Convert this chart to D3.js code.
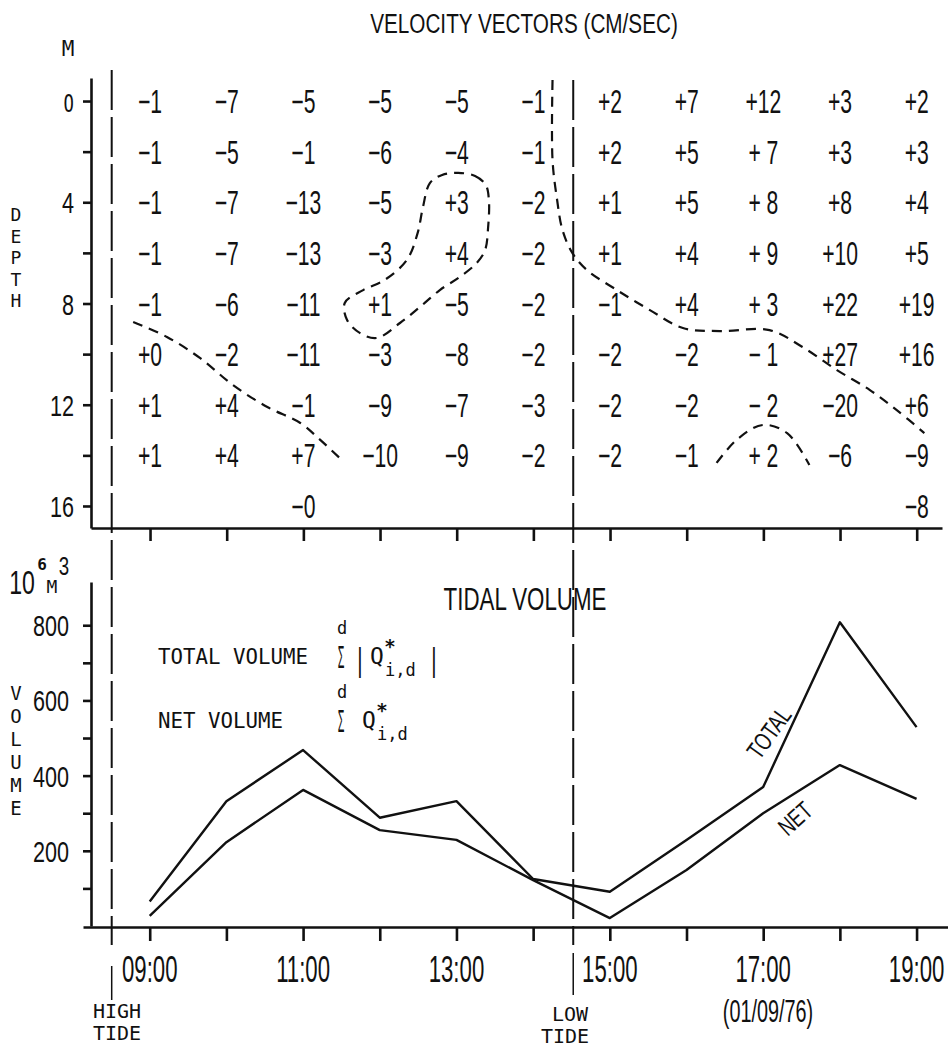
<!DOCTYPE html>
<html>
<head>
<meta charset="utf-8">
<script src="https://cdn.jsdelivr.net/npm/d3@7"></script>
<style>
  body { margin: 0; background: #fff; }
  svg { display: block; }
  text { fill: #111; }
</style>
</head>
<body>
<svg id="chart" width="948" height="1052"></svg>
<script>
// ---- data ----
var hours = [9, 10, 11, 12, 13, 14, 15, 16, 17, 18, 19];
var depths = [0, 2, 4, 6, 8, 10, 12, 14];

// velocity (cm/sec), one row per depth, one column per hour
var velocityRows = [
  ["-1", "-7", "-5",  "-5", "-5", "-1", "+2", "+7", "+12", "+3",  "+2"],
  ["-1", "-5", "-1",  "-6", "-4", "-1", "+2", "+5", "+ 7", "+3",  "+3"],
  ["-1", "-7", "-13", "-5", "+3", "-2", "+1", "+5", "+ 8", "+8",  "+4"],
  ["-1", "-7", "-13", "-3", "+4", "-2", "+1", "+4", "+ 9", "+10", "+5"],
  ["-1", "-6", "-11", "+1", "-5", "-2", "-1", "+4", "+ 3", "+22", "+19"],
  ["+0", "-2", "-11", "-3", "-8", "-2", "-2", "-2", "- 1", "+27", "+16"],
  ["+1", "+4", "-1",  "-9", "-7", "-3", "-2", "-2", "- 2", "-20", "+6"],
  ["+1", "+4", "+7",  "-10", "-9", "-2", "-2", "-1", "+ 2", "-6", "-9"]
];
var bottomCells = [{hour: 11, depth: 16, label: "-0"}, {hour: 19, depth: 16, label: "-8"}];

// zero contours, [hour, depth]
var contourLeft = [[8.78, 8.73], [9.22, 9.32], [9.65, 10.15], [10.08, 11.22], [10.53, 12.09],
                   [10.96, 12.72], [11.22, 13.39], [11.5, 14.18]];
var contourLoop = [[13.02, 2.84], [13.24, 2.96], [13.38, 3.32], [13.42, 3.91], [13.41, 4.98],
                   [13.37, 5.89], [13.26, 6.4], [13.04, 6.95], [12.78, 7.47], [12.52, 8.14],
                   [12.26, 8.77], [11.96, 9.36], [11.74, 9.17], [11.57, 8.65], [11.54, 7.98],
                   [11.78, 7.47], [12.06, 7.07], [12.35, 6.28], [12.49, 5.22], [12.56, 4.19],
                   [12.65, 3.24], [12.81, 2.92]];
var contourRight = [[14.25, -0.83], [14.25, 2.33], [14.31, 3.91], [14.38, 5.1], [14.51, 6.01],
                    [14.7, 6.68], [15.09, 7.47], [15.52, 8.26], [15.95, 8.97], [16.43, 9.09],
                    [17.08, 9.05], [17.51, 9.72], [17.96, 10.63], [18.39, 11.42], [18.74, 12.21],
                    [19.1, 13.12]];
var contourArc = [[16.39, 14.3], [16.65, 13.39], [16.99, 12.8], [17.31, 13.12], [17.6, 14.38]];

// tidal volume (10^6 m^3)
var totalVolume = [65, 332, 468, 288, 332, 125, 91, 229, 370, 808, 529];
var netVolume   = [27, 223, 362, 255, 229, 122, 21, 149, 300, 428, 338];

var highTide = 8.5, lowTide = 14.52;
var depthTicks = [0, 2, 4, 6, 8, 10, 12, 14, 16];
var depthLabels = [0, 4, 8, 12, 16];
var volumeTicks = [100, 200, 300, 400, 500, 600, 700, 800];
var volumeLabels = [200, 400, 600, 800];
var timeLabels = [9, 11, 13, 15, 17, 19];

// ---- setup ----
var svg = d3.select("#chart");
var NARROW = "'Liberation Sans', Arial, sans-serif";
var MONO = "'DejaVu Sans Mono', monospace";

var x = d3.scaleLinear().domain([8.23, 19.33]).range([91, 942]);
var xb = d3.scaleLinear().domain([8.13, 19.41]).range([83, 948]);
var depth = d3.scaleLinear().domain([-0.91, 16.87]).range([78, 528]);
var vol = d3.scaleLinear().domain([0, 915]).range([926, 582]);

function minus(s) { return s.replace("-", "\u2212"); }
function hh(h) { return (h < 10 ? "0" : "") + h + ":00"; }

// narrow text, squeezed horizontally
function narrow(px, py, str, size, sx, anchor) {
  return svg.append("text")
    .attr("transform", "translate(" + px + "," + py + ") scale(" + sx + ",1)")
    .attr("text-anchor", anchor || "middle")
    .style("font-family", NARROW).style("font-size", size + "px")
    .text(str);
}
function mono(px, py, str, size, anchor) {
  return svg.append("text").attr("x", px).attr("y", py)
    .attr("text-anchor", anchor || "middle")
    .style("font-family", MONO).style("font-size", size + "px")
    .text(str);
}

// ---- top panel: velocity vectors ----
narrow(524, 33, "VELOCITY VECTORS (CM/SEC)", 28, 0.74);
mono(68, 56, "M", 21);
"DEPTH".split("").forEach(function(c, i) { mono(16, 221 + i * 21.5, c, 18); });

var yAxisTop = d3.axisLeft(depth).tickValues(depthTicks).tickSize(8).tickSizeOuter(0).tickFormat("");
svg.append("g").attr("class", "axis").attr("transform", "translate(91,0)").call(yAxisTop);
var xAxisTop = d3.axisBottom(x).tickValues(hours).tickSize(13).tickSizeOuter(0).tickFormat("");
svg.append("g").attr("class", "axis").attr("transform", "translate(0,528)").call(xAxisTop);

svg.selectAll("text.dlab").data(depthLabels).join("text").attr("class", "dlab")
  .attr("transform", function(d) { return "translate(74," + (depth(d) + 11) + ") scale(0.72,1)"; })
  .attr("text-anchor", "end")
  .style("font-family", function(d) { return d === 0 ? MONO : NARROW; })
  .style("font-size", function(d) { return d === 0 ? "24px" : "30px"; })
  .text(function(d) { return d === 0 ? "O" : d; });

var cells = [];
velocityRows.forEach(function(row, i) {
  row.forEach(function(v, j) { cells.push({hour: hours[j], depth: depths[i], label: v}); });
});
cells = cells.concat(bottomCells);

svg.selectAll("text.vel").data(cells).join("text").attr("class", "vel")
  .attr("transform", function(d) { return "translate(" + x(d.hour) + "," + (depth(d.depth) + 12) + ") scale(0.64,1)"; })
  .attr("text-anchor", "middle")
  .style("font-family", NARROW).style("font-size", "33px")
  .text(function(d) { return minus(d.label); });

var contourLine = d3.line().x(function(d) { return x(d[0]); }).y(function(d) { return depth(d[1]); })
  .curve(d3.curveCatmullRom);
var contourClosed = d3.line().x(function(d) { return x(d[0]); }).y(function(d) { return depth(d[1]); })
  .curve(d3.curveCatmullRomClosed);

svg.selectAll("path.contour").data([contourLeft, contourRight, contourArc]).join("path")
  .attr("class", "contour").attr("d", contourLine);
svg.append("path").attr("class", "contour").attr("d", contourClosed(contourLoop));
svg.selectAll("path.contour")
  .attr("fill", "none").attr("stroke", "#111").attr("stroke-width", 2.2).attr("stroke-dasharray", "10,7");

// ---- tide lines ----
[{t: highTide, top: 70, y2: 1000, y1: 966}, {t: lowTide, top: 80, y2: 995, y1: 953}].forEach(function(d) {
  svg.append("line").attr("x1", x(d.t)).attr("x2", x(d.t)).attr("y1", d.top).attr("y2", 945)
    .attr("stroke", "#111").attr("stroke-width", 2).attr("stroke-dasharray", "40,7");
  svg.append("line").attr("x1", x(d.t)).attr("x2", x(d.t)).attr("y1", d.y1).attr("y2", d.y2)
    .attr("stroke", "#111").attr("stroke-width", 1.5);
});

// ---- bottom panel: tidal volume ----
narrow(525, 610, "TIDAL VOLUME", 31, 0.72);

var yAxisBot = d3.axisLeft(vol).tickValues(volumeTicks).tickSize(8).tickSizeOuter(0).tickFormat("");
svg.append("g").attr("class", "axis").attr("transform", "translate(91,0)").call(yAxisBot);
var xAxisBot = d3.axisBottom(xb).tickValues(hours).tickSize(14).tickSizeOuter(0).tickFormat("");
svg.append("g").attr("class", "axis").attr("transform", "translate(0,927)").call(xAxisBot);

svg.selectAll("text.vlab").data(volumeLabels).join("text").attr("class", "vlab")
  .attr("transform", function(d) { return "translate(69," + (vol(d) + 11) + ") scale(0.72,1)"; })
  .attr("text-anchor", "end")
  .style("font-family", NARROW).style("font-size", "30px")
  .text(function(d) { return d; });

svg.selectAll("text.tlab").data(timeLabels).join("text").attr("class", "tlab")
  .attr("transform", function(d) { return "translate(" + xb(d) + ",982) scale(0.6,1)"; })
  .attr("text-anchor", "middle")
  .style("font-family", NARROW).style("font-size", "37px")
  .text(hh);

svg.selectAll(".axis path, .axis line").attr("stroke", "#111").attr("stroke-width", 2.6);

// unit label 10^6 m^3
narrow(22, 594, "10", 33, 0.7);
mono(42, 570, "6", 16).style("font-weight", "bold");
mono(52, 593, "M", 18);
narrow(64, 575, "3", 26, 0.72);
"VOLUME".split("").forEach(function(c, i) { mono(16, 700 + i * 23, c, 19); });

// legend
mono(158, 664, "TOTAL VOLUME", 22, "start").attr("textLength", 150).attr("lengthAdjust", "spacingAndGlyphs");
mono(158, 728, "NET VOLUME", 22, "start").attr("textLength", 125).attr("lengthAdjust", "spacingAndGlyphs");
[{y: 664, bars: true}, {y: 728, bars: false}].forEach(function(r) {
  mono(342, r.y - 30, "d", 17);
  svg.append("text").attr("transform", "translate(341," + (r.y + 4) + ") scale(0.45,1.3)")
    .attr("text-anchor", "middle").style("font-family", NARROW).style("font-size", "24px").text("\u03A3");
  var qx = r.bars ? 377 : 369;
  if (r.bars) {
    narrow(360, r.y + 7, "|", 34, 0.6);
    narrow(434, r.y + 7, "|", 34, 0.6);
  }
  mono(qx, r.y, "Q", 23);
  mono(qx + 13, r.y - 11, "*", 19).style("font-weight", "bold");
  mono(qx + 8, r.y + 12, "i,d", 17, "start");
});

var volumeLine = d3.line().x(function(d, i) { return xb(hours[i]); }).y(function(d) { return vol(d); });
svg.selectAll("path.vol").data([totalVolume, netVolume]).join("path").attr("class", "vol")
  .attr("d", volumeLine).attr("fill", "none").attr("stroke", "#111").attr("stroke-width", 2.4)
  .attr("stroke-linejoin", "round");

// line labels
svg.append("text").attr("transform", "translate(776,738) rotate(-54) scale(0.72,1)")
  .attr("text-anchor", "middle").style("font-family", NARROW).style("font-size", "25px").text("TOTAL");
svg.append("text").attr("transform", "translate(801,825) rotate(-42) scale(0.72,1)")
  .attr("text-anchor", "middle").style("font-family", NARROW).style("font-size", "25px").text("NET");

// tide notes
mono(117, 1018, "HIGH", 20);
mono(117, 1040, "TIDE", 20);
mono(570, 1021, "LOW", 20);
mono(565, 1043, "TIDE", 20);
narrow(768, 1022, "(01/09/76)", 32, 0.62);
</script>
</body>
</html>
